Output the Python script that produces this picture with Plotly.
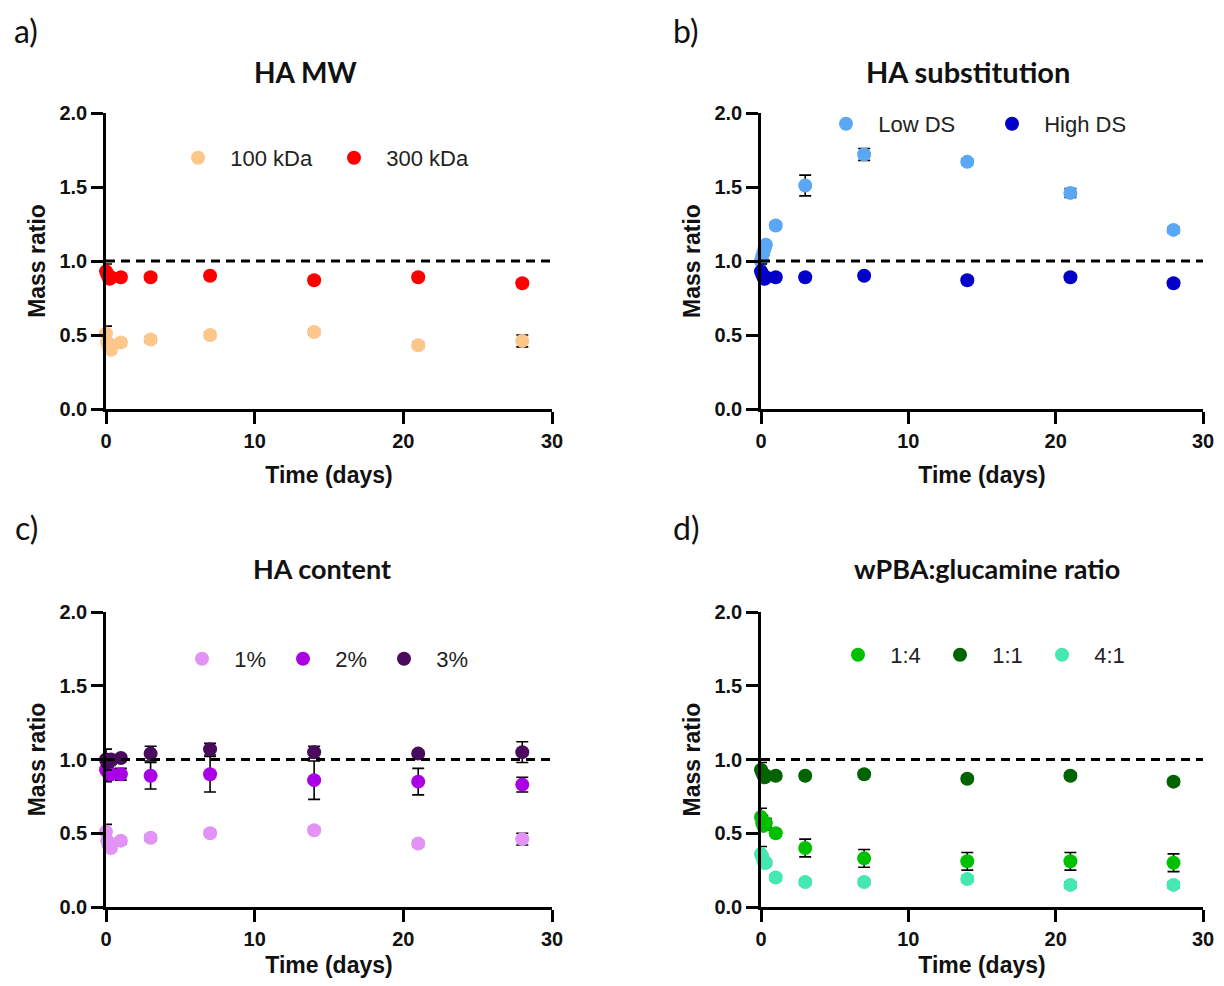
import plotly.graph_objects as go

# ---------------- data ----------------
time_days = [0, 0.083, 0.167, 0.25, 0.333, 1, 3, 7, 14, 21, 28]

# panel a: HA MW
mw_100 = [0.51, 0.45, 0.42, 0.41, 0.40, 0.45, 0.47, 0.50, 0.52, 0.43, 0.46]
mw_100_err = [0.05, 0.02, 0.02, 0.02, 0.02, 0.02, 0.02, 0.02, 0.02, 0.02, 0.04]
mw_300 = [0.93, 0.91, 0.89, 0.88, 0.89, 0.89, 0.89, 0.90, 0.87, 0.89, 0.85]
mw_300_err = [0.05, 0.02, 0.02, 0.02, 0.02, 0.02, 0.02, 0.02, 0.02, 0.02, 0.02]

# panel b: HA substitution
low_ds = [1.00, 1.03, 1.06, 1.09, 1.11, 1.24, 1.51, 1.72, 1.67, 1.46, 1.21]
low_ds_err = [0.02, 0.02, 0.02, 0.02, 0.02, 0.02, 0.07, 0.04, 0.02, 0.03, 0.02]
high_ds = [0.93, 0.91, 0.89, 0.88, 0.89, 0.89, 0.89, 0.90, 0.87, 0.89, 0.85]
high_ds_err = [0.05, 0.02, 0.02, 0.02, 0.02, 0.02, 0.02, 0.02, 0.02, 0.02, 0.02]

# panel c: HA content
c_1 = [0.51, 0.45, 0.42, 0.41, 0.40, 0.45, 0.47, 0.50, 0.52, 0.43, 0.46]
c_1_err = [0.05, 0.02, 0.02, 0.02, 0.02, 0.02, 0.02, 0.02, 0.02, 0.02, 0.04]
c_2 = [0.93, 0.92, 0.91, 0.90, 0.90, 0.90, 0.89, 0.90, 0.86, 0.85, 0.83]
c_2_err = [0.08, 0.06, 0.03, 0.03, 0.03, 0.04, 0.09, 0.12, 0.13, 0.09, 0.05]
c_3 = [1.00, 0.98, 0.99, 0.99, 1.00, 1.01, 1.04, 1.07, 1.05, 1.04, 1.05]
c_3_err = [0.07, 0.03, 0.03, 0.03, 0.03, 0.02, 0.05, 0.04, 0.04, 0.02, 0.07]

# panel d: wPBA:glucamine ratio
r_14 = [0.61, 0.57, 0.55, 0.56, 0.57, 0.50, 0.40, 0.33, 0.31, 0.31, 0.30]
r_14_err = [0.06, 0.05, 0.03, 0.03, 0.03, 0.02, 0.06, 0.06, 0.06, 0.06, 0.06]
r_11 = [0.93, 0.91, 0.89, 0.88, 0.89, 0.89, 0.89, 0.90, 0.87, 0.89, 0.85]
r_11_err = [0.05, 0.02, 0.02, 0.02, 0.02, 0.02, 0.02, 0.02, 0.02, 0.02, 0.02]
r_41 = [0.36, 0.34, 0.31, 0.30, 0.30, 0.20, 0.17, 0.17, 0.19, 0.15, 0.15]
r_41_err = [0.05, 0.02, 0.02, 0.02, 0.02, 0.02, 0.02, 0.02, 0.02, 0.02, 0.02]

panel_titles = ["HA MW", "HA substitution", "HA content", "wPBA:glucamine ratio"]
panel_letters = ["a)", "b)", "c)", "d)"]
x_ticks = [0, 10, 20, 30]
y_ticks = [0.0, 0.5, 1.0, 1.5, 2.0]
REF_LINE = 1.0

# page body has an 8 px margin: the figure is drawn at (8, 8)
OFF = 8
W, H = 1224 - 2 * OFF, 986 - 2 * OFF

def px_x(p):
    return (p - OFF) / W

def px_y(p):
    return (H - (p - OFF)) / H

# axis domains (target pixels in the 1224x986 window)
panels = [
    dict(x0=106, x1=552, ytop=113, ybot=409),
    dict(x0=761, x1=1203, ytop=113, ybot=409),
    dict(x0=106, x1=552, ytop=612, ybot=907),
    dict(x0=761, x1=1203, ytop=612, ybot=907),
]

series = [
    [("100 kDa", mw_100, mw_100_err, "#FDC68A"), ("300 kDa", mw_300, mw_300_err, "#FF0000")],
    [("Low DS", low_ds, low_ds_err, "#5AA8F5"), ("High DS", high_ds, high_ds_err, "#0000C8")],
    [("1%", c_1, c_1_err, "#E293F5"), ("2%", c_2, c_2_err, "#AA00E6"), ("3%", c_3, c_3_err, "#4A0A5E")],
    [("1:4", r_14, r_14_err, "#00C000"), ("1:1", r_11, r_11_err, "#006400"), ("4:1", r_41, r_41_err, "#44E8B0")],
]

# legend: (first marker x, y centre, spacing between entries)
legend_pos = [(198, 158, 156), (846, 124, 166), (202, 659, 101), (858, 655, 102)]
title_pos = [(305, 72), (968, 72), (322, 568), (987, 568)]
title_size = [28, 29, 27, 27]
letter_pos = [(26, 30), (686, 30), (26, 527), (686, 527)]

fig = go.Figure()
layout = {}
for i, (p, ser) in enumerate(zip(panels, series)):
    k = "" if i == 0 else str(i + 1)
    leg = "legend" if i == 0 else f"legend{i + 1}"
    for name, vals, err, col in ser:
        fig.add_trace(go.Scatter(
            x=time_days, y=vals, mode="markers", name="  " + name,
            xaxis="x" + k, yaxis="y" + k, legend=leg, cliponaxis=False,
            marker=dict(size=14, color=col, line=dict(width=0)),
            error_y=dict(type="data", array=err, visible=True, color="black",
                         thickness=1.6, width=6),
        ))
    tickfont = dict(family="Liberation Sans, Arial", size=20, color="#111", weight="bold")
    titlefont = dict(family="Liberation Sans, Arial", size=23, color="#111", weight="bold")
    layout["xaxis" + k] = dict(
        domain=[px_x(p["x0"]), px_x(p["x1"])], anchor="y" + k, range=[0, 30],
        tickvals=x_ticks, ticks="outside", ticklen=12, tickwidth=2.5, tickcolor="black",
        showline=True, linewidth=2.5, linecolor="black", showgrid=False, zeroline=False,
        automargin=False, ticklabeloverflow="allow",
        tickfont=tickfont, title=dict(text="Time (days)", font=titlefont, standoff=17),
    )
    layout["yaxis" + k] = dict(
        domain=[px_y(p["ybot"]), px_y(p["ytop"])], anchor="x" + k, range=[0, 2],
        tickvals=y_ticks, tickformat=".1f", ticks="outside", ticklen=12, tickwidth=2.5,
        tickcolor="black", showline=True, linewidth=2.5, linecolor="black",
        showgrid=False, zeroline=False, tickfont=tickfont, automargin=False,
        ticklabeloverflow="allow",
        title=dict(text="Mass ratio", font=titlefont, standoff=8),
    )
    lx, ly, sp = legend_pos[i]
    layout[leg] = dict(
        x=px_x(lx - 20), y=px_y(ly), xanchor="left", yanchor="middle", orientation="h",
        font=dict(family="Liberation Sans, Arial", size=22, color="#222"),
        bgcolor="rgba(0,0,0,0)", itemclick=False, entrywidth=sp - 45,
        entrywidthmode="pixels",
    )
    fig.add_shape(type="line", xref="x" + k, yref="y" + k, x0=0, x1=30,
                  y0=REF_LINE, y1=REF_LINE,
                  line=dict(color="black", width=3, dash="9px,6px"))
    tx, ty = title_pos[i]
    fig.add_annotation(x=px_x(tx), y=px_y(ty), xref="paper", yref="paper",
                       xanchor="center", yanchor="middle",
                       text=panel_titles[i], showarrow=False,
                       font=dict(family="Lato, Open Sans", size=title_size[i],
                                 color="#111", weight="bold"))
    ax_, ay_ = letter_pos[i]
    fig.add_annotation(x=px_x(ax_), y=px_y(ay_), xref="paper", yref="paper",
                       xanchor="center", yanchor="middle",
                       text=panel_letters[i], showarrow=False,
                       font=dict(family="Lato, Open Sans", size=32, color="#111"))

fig.update_layout(
    template="none",
    width=W, height=H, autosize=False,
    margin=dict(l=0, r=0, t=0, b=0, autoexpand=False),
    paper_bgcolor="white", plot_bgcolor="white",
    showlegend=True,
    **layout,
)
fig.write_html("out.html")
